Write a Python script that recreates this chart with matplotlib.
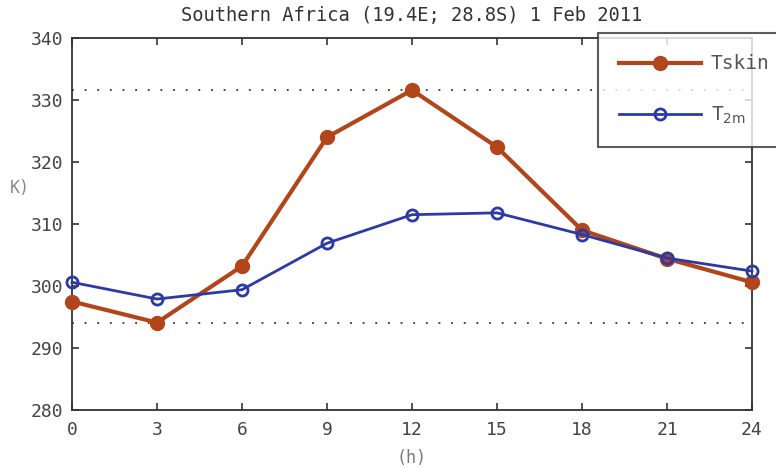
import matplotlib
matplotlib.use("Agg")
import matplotlib.pyplot as plt

hours = [0, 3, 6, 9, 12, 15, 18, 21, 24]
tskin = [297.5, 294.1, 303.2, 324.0, 331.6, 322.4, 309.0, 304.4, 300.6]
t2m = [300.6, 297.9, 299.4, 306.9, 311.5, 311.8, 308.3, 304.5, 302.4]
xticks = [0, 3, 6, 9, 12, 15, 18, 21, 24]
yticks = [280, 290, 300, 310, 320, 330, 340]

plt.rcParams['font.family'] = ['DejaVu Sans Mono']

fig = plt.figure(figsize=(7.76, 4.68), dpi=100)
ax = fig.add_axes([72/776, 1-410/468, (752-72)/776, (410-38)/468])

c_skin = '#b3451b'
c_2m = '#2b3aa6'

ax.plot(hours, [max(tskin)]*len(hours), ls=(0, (1, 6)), color='#333333', lw=1.3)
ax.plot(hours, [min(tskin)]*len(hours), ls=(0, (1, 6)), color='#333333', lw=1.3)

l1, = ax.plot(hours, tskin, '-o', color=c_skin, lw=3, ms=10, mfc=c_skin, mec=c_skin,
              label='Tskin', clip_on=False, zorder=3)
l2, = ax.plot(hours, t2m, '-o', color=c_2m, lw=2, ms=8, mfc='none', mec=c_2m, mew=2,
              label='T$_{\\mathrm{2m}}$', clip_on=False, zorder=4)

ax.set_xlim(0, 24)
ax.set_ylim(280, 340)
ax.set_xticks(xticks)
ax.set_yticks(yticks)
ax.tick_params(direction='in', top=True, right=True, labelsize=13, colors='#333333',
               length=5, width=1.2)
ax.tick_params(axis='x', pad=8)
ax.tick_params(axis='y', pad=6)
for lab in ax.get_xticklabels() + ax.get_yticklabels():
    lab.set_color('#444444')
for s in ax.spines.values():
    s.set_linewidth(1.3)
    s.set_color('#333333')

ax.set_title('Southern Africa (19.4E; 28.8S) 1 Feb 2011', fontsize=13.5, color='#333333', pad=12)
ax.set_xlabel('(h)', fontsize=12, color='#777777', labelpad=7)
fig.text(10/776, 1-188/468, 'K)', fontsize=12, color='#888888', ha='left', va='center')

leg = ax.legend(handles=[l1, l2], loc='upper left', bbox_to_anchor=(598/776, 1-33/468),
                bbox_transform=fig.transFigure, frameon=True, fancybox=False,
                edgecolor='#333333', fontsize=14, handlelength=4.2, borderpad=1.1,
                labelspacing=1.6, handletextpad=0.5, borderaxespad=0)
leg.get_frame().set_linewidth(1.5)
leg.set_zorder(10)
for t in leg.get_texts():
    t.set_color('#555555')

fig.savefig('out.png', dpi=100)
